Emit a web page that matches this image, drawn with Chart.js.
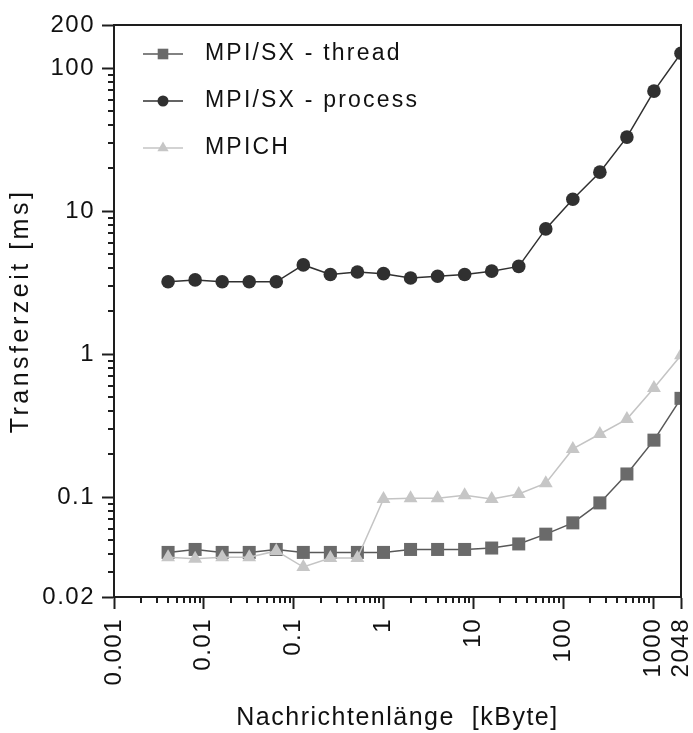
<!DOCTYPE html>
<html>
<head>
<meta charset="utf-8">
<title>Transferzeit</title>
<script src="https://cdn.jsdelivr.net/npm/chart.js@4.4.0/dist/chart.umd.min.js"></script>
<style>
  body { margin: 0; background: #fff; }
  canvas { display: block; }
</style>
</head>
<body>
<canvas id="transfer-chart" width="693" height="733"></canvas>
<script>
// Nachrichtenlänge in kByte
const msgSizes = [0.004, 0.008, 0.016, 0.032, 0.064, 0.128, 0.256, 0.512, 1, 2, 4, 8, 16, 32, 64, 128, 256, 512, 1024, 2048];

// Transferzeit in ms
const threadTimes  = [0.041, 0.043, 0.041, 0.041, 0.043, 0.041, 0.041, 0.041, 0.041, 0.043, 0.043, 0.043, 0.044, 0.047, 0.055, 0.066, 0.091, 0.145, 0.25, 0.49];
const processTimes = [3.2, 3.3, 3.2, 3.2, 3.2, 4.2, 3.6, 3.75, 3.65, 3.4, 3.5, 3.6, 3.8, 4.1, 7.5, 12.1, 18.7, 32.9, 69, 127];
const mpichTimes   = [0.038, 0.037, 0.038, 0.038, 0.042, 0.0324, 0.0375, 0.0375, 0.097, 0.098, 0.098, 0.103, 0.097, 0.105, 0.125, 0.217, 0.276, 0.351, 0.578, 0.98];

const seriesNames = ["MPI/SX - thread", "MPI/SX - process", "MPICH"];

// beschriftete Achsenwerte
const xTickValues = [0.001, 0.01, 0.1, 1, 10, 100, 1000, 2048];
const xTickLabels = ["0.001", "0.01", "0.1", "1", "10", "100", "1000", "2048"];
const yTickValues = [0.02, 0.1, 1, 10, 100, 200];
const yTickLabels = ["0.02", "0.1", "1", "10", "100", "200"];

const FONT = "'Liberation Sans', Arial, sans-serif";
const AXIS = "#1e1e1e";

function toPoints(times) {
    return msgSizes.map((x, i) => ({ x: x, y: times[i] }));
}

// Rahmen, kleine Ticks und Legende im Diagramm
const framePlugin = {
    id: "frame",
    beforeLayout(chart) { chart.ctx.letterSpacing = "1.5px"; },
    afterLayout(chart) {
        // y-Titel etwas weiter gesperrt
        const s = chart.scales.y;
        if (s && !s._spaced) {
            const orig = s.drawTitle;
            s.drawTitle = function () {
                const old = this.ctx.letterSpacing;
                this.ctx.letterSpacing = "3.5px";
                orig.apply(this, arguments);
                this.ctx.letterSpacing = old;
            };
            s._spaced = true;
        }
    },
    beforeDraw(chart) { chart.ctx.letterSpacing = "1.5px"; },
    afterDraw(chart) {
        const ctx = chart.ctx;
        const a = chart.chartArea;
        const xs = chart.scales.x, ys = chart.scales.y;
        ctx.save();
        ctx.strokeStyle = AXIS;
        ctx.lineWidth = 2;
        ctx.strokeRect(a.left, a.top, a.right - a.left, a.bottom - a.top);

        // kleine Ticks
        ctx.beginPath();
        for (let e = -3; e <= 2; e++) {
            for (let m = 2; m <= 9; m++) {
                const px = Math.round(xs.getPixelForValue(m * Math.pow(10, e)));
                ctx.moveTo(px, a.bottom);
                ctx.lineTo(px, a.bottom + 6);
            }
        }
        for (let e = -2; e <= 1; e++) {
            for (let m = 2; m <= 9; m++) {
                const v = m * Math.pow(10, e);
                if (v <= 0.0200001) continue;
                const py = Math.round(ys.getPixelForValue(v));
                ctx.moveTo(a.left, py);
                ctx.lineTo(a.left - 6, py);
            }
        }
        ctx.stroke();

        // Legende
        ctx.letterSpacing = "2.2px";
        ctx.font = "23px " + FONT;
        ctx.textBaseline = "middle";
        ctx.textAlign = "left";
        const sets = chart.data.datasets;
        for (let i = 0; i < sets.length; i++) {
            const ds = sets[i];
            const y = a.top + 29 + i * 47;
            const x0 = a.left + 29;
            ctx.strokeStyle = ds.borderColor;
            ctx.lineWidth = 1.5;
            ctx.beginPath();
            ctx.moveTo(x0, y);
            ctx.lineTo(x0 + 40, y);
            ctx.stroke();
            ctx.fillStyle = ds.pointBackgroundColor;
            Chart.helpers.drawPoint(ctx, {
                pointStyle: ds.pointStyle,
                radius: ds.legendRadius,
                rotation: 0,
                borderWidth: 0
            }, x0 + 20, y);
            ctx.fillStyle = "#111";
            ctx.fillText(ds.label, a.left + 91, y);
        }
        ctx.restore();
    }
};

new Chart(document.getElementById("transfer-chart"), {
    type: "line",
    data: {
        datasets: [
            {
                label: seriesNames[0],
                data: toPoints(threadTimes),
                borderColor: "#585858",
                backgroundColor: "#6a6a6a",
                pointBackgroundColor: "#6a6a6a",
                pointBorderWidth: 0,
                pointStyle: "rect",
                pointRadius: 9.2,
                legendRadius: 7.5,
                borderWidth: 1.5,
                order: 2
            },
            {
                label: seriesNames[1],
                data: toPoints(processTimes),
                borderColor: "#303030",
                backgroundColor: "#303030",
                pointBackgroundColor: "#303030",
                pointBorderWidth: 0,
                pointStyle: "circle",
                pointRadius: 6.8,
                legendRadius: 5.5,
                borderWidth: 1.5,
                order: 1
            },
            {
                label: seriesNames[2],
                data: toPoints(mpichTimes),
                borderColor: "#c4c4c4",
                backgroundColor: "#c6c6c6",
                pointBackgroundColor: "#c6c6c6",
                pointBorderWidth: 0,
                pointStyle: "triangle",
                pointRadius: 8,
                legendRadius: 6.5,
                borderWidth: 1.5,
                order: 0
            }
        ]
    },
    options: {
        responsive: false,
        animation: false,
        devicePixelRatio: 1,
        layout: { padding: { left: 0, top: 25, right: 12, bottom: 0 } },
        plugins: {
            legend: { display: false },
            tooltip: { enabled: false }
        },
        scales: {
            x: {
                type: "logarithmic",
                position: "bottom",
                min: 0.001,
                max: 2048,
                afterBuildTicks: (s) => { s.ticks = xTickValues.map(v => ({ value: v })); },
                afterFit: (s) => { s.height = 136; s.paddingLeft = 0; s.paddingRight = 0; },
                border: { display: true, color: AXIS, width: 2 },
                grid: { drawOnChartArea: false, drawTicks: true, tickLength: 12, tickColor: AXIS, tickWidth: 2 },
                ticks: {
                    autoSkip: false,
                    minRotation: 90,
                    maxRotation: 90,
                    padding: 9,
                    color: "#111",
                    font: { family: FONT, size: 24 },
                    callback: (v, i) => xTickLabels[i]
                },
                title: {
                    display: true,
                    text: "Nachrichtenlänge  [kByte]",
                    color: "#111",
                    font: { family: FONT, size: 25 },
                    padding: { top: 0, bottom: 0 }
                }
            },
            y: {
                type: "logarithmic",
                position: "left",
                min: 0.02,
                max: 200,
                afterBuildTicks: (s) => { s.ticks = yTickValues.map(v => ({ value: v })); },
                afterFit: (s) => { s.width = 114; s.paddingTop = 0; s.paddingBottom = 0; },
                border: { display: true, color: AXIS, width: 2 },
                grid: { drawOnChartArea: false, drawTicks: true, tickLength: 12, tickColor: AXIS, tickWidth: 2 },
                ticks: {
                    autoSkip: false,
                    padding: 7,
                    color: "#111",
                    font: { family: FONT, size: 24 },
                    callback: (v, i) => yTickLabels[i]
                },
                title: {
                    display: true,
                    text: "Transferzeit [ms]",
                    color: "#111",
                    font: { family: FONT, size: 25 },
                    padding: { top: 6, bottom: 0 }
                }
            }
        }
    },
    plugins: [framePlugin]
});
</script>
</body>
</html>
